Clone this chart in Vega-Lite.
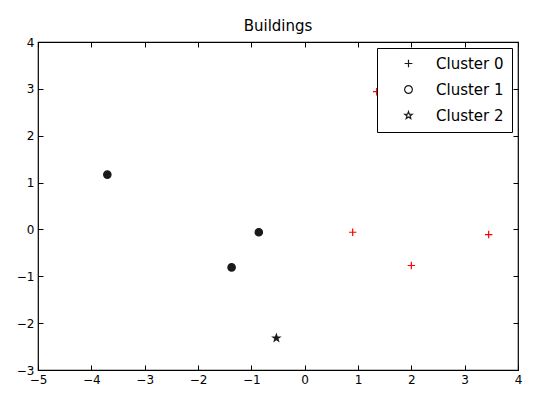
{
  "$schema": "https://vega.github.io/schema/vega-lite/v6.json",
  "width": 480,
  "height": 328,
  "autosize": "none",
  "padding": {"left": 38, "top": 42, "right": 18, "bottom": 25},
  "background": "white",
  "title": {"text": "Buildings", "font": "DejaVu Sans", "fontSize": 15, "fontWeight": "normal", "color": "black", "offset": 2},
  "config": {
    "view": {"stroke": "black", "strokeWidth": 1.2},
    "axis": {"grid": false, "domain": false, "tickSize": -5, "tickColor": "black", "labelFont": "DejaVu Sans", "labelFontSize": 12, "labelColor": "black", "title": null, "labelPadding": 9}
  },
  "data": {"values": [
    {"x": 0.9, "y": -0.06, "cluster": "Cluster 0"},
    {"x": 3.45, "y": -0.11, "cluster": "Cluster 0"},
    {"x": 2.0, "y": -0.77, "cluster": "Cluster 0"},
    {"x": 1.35, "y": 2.94, "cluster": "Cluster 0"},
    {"x": -3.7, "y": 1.17, "cluster": "Cluster 1"},
    {"x": -0.86, "y": -0.06, "cluster": "Cluster 1"},
    {"x": -1.37, "y": -0.81, "cluster": "Cluster 1"},
    {"x": -0.53, "y": -2.32, "cluster": "Cluster 2"}
  ]},
  "layer": [
    {
      "mark": {"type": "point", "filled": false, "size": 55, "strokeWidth": 1.2, "opacity": 1},
      "encoding": {
        "x": {"field": "x", "type": "quantitative", "scale": {"domain": [-5, 4], "nice": false, "zero": false}, "axis": {"orient": "bottom", "values": [-5,-4,-3,-2,-1,0,1,2,3,4], "labelFlush": false}},
        "y": {"field": "y", "type": "quantitative", "scale": {"domain": [-3, 4], "nice": false, "zero": false}, "axis": {"orient": "left", "values": [-3,-2,-1,0,1,2,3,4], "labelFlush": false}},
        "fill": {"condition": {"test": "datum.cluster !== 'Cluster 0'", "value": "#1a1a1a"}, "value": "transparent"},
        "stroke": {"condition": {"test": "datum.cluster === 'Cluster 0'", "value": "#ff0000"}, "value": "#1a1a1a"},
        "shape": {"field": "cluster", "type": "nominal", "scale": {"domain": ["Cluster 0", "Cluster 1", "Cluster 2"], "range": ["M-1,0H1M0,-1V1", "circle", "M0,-1L0.235,-0.324L0.951,-0.309L0.38,0.124L0.588,0.809L0,0.4L-0.588,0.809L-0.38,0.124L-0.951,-0.309L-0.235,-0.324Z"]}, "legend": {
          "title": null, "orient": "top-right", "offset": 6, "fillColor": "white", "strokeColor": "black", "padding": 8,
          "labelFont": "DejaVu Sans", "labelFontSize": 15, "labelColor": "black", "symbolSize": 60, "rowPadding": 10, "symbolOffset": 16, "labelOffset": 20, "symbolStrokeWidth": 1.2,
          "encode": {"symbols": {
            "fill": {"value": "#1a1a1a"},
            "stroke": {"condition": {"test": "datum.value === 'Cluster 0'", "value": "#ff0000"}, "value": "#1a1a1a"}
          }}
        }}
      }
    },
    {
      "mark": {"type": "point", "opacity": 0},
      "encoding": {
        "x": {"field": "x", "type": "quantitative", "axis": {"orient": "top", "values": [-5,-4,-3,-2,-1,0,1,2,3,4], "labels": false}},
        "y": {"field": "y", "type": "quantitative", "axis": {"orient": "right", "values": [-3,-2,-1,0,1,2,3,4], "labels": false}}
      }
    }
  ],
  "resolve": {"axis": {"x": "independent", "y": "independent"}}
}
